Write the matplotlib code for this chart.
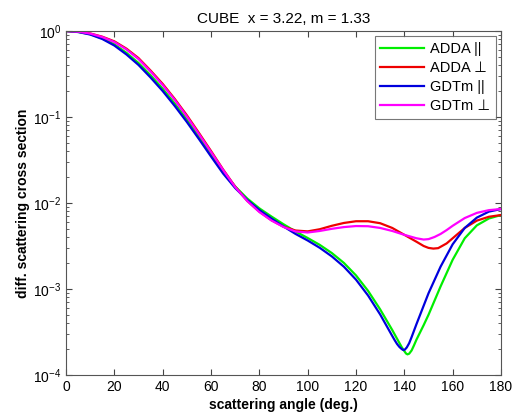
import matplotlib
matplotlib.use('Agg')
import matplotlib.pyplot as plt
import numpy as np

plt.rcParams['font.family'] = ['Liberation Sans', 'DejaVu Sans']
plt.rcParams['mathtext.default'] = 'regular'

# log10 of the curves
ang_r = [0, 5, 10, 15, 20, 25, 30, 35, 40, 45, 50, 55, 60, 65, 70, 75, 80, 85, 90, 95,
         100, 105, 110, 115, 120, 125, 130, 135, 140, 145, 148, 150, 152, 154, 157.5, 160,
         165, 170, 175, 180]
adda_perp = [0, -0.007, -0.028, -0.066, -0.12, -0.205, -0.315, -0.46, -0.615, -0.79, -0.98,
             -1.185, -1.395, -1.61, -1.81, -1.975, -2.10, -2.20, -2.275, -2.32, -2.33, -2.305,
             -2.265, -2.232, -2.212, -2.212, -2.235, -2.29, -2.37, -2.45, -2.50, -2.522, -2.53,
             -2.525, -2.47, -2.41, -2.29, -2.205, -2.16, -2.14]

ang_m = [0, 5, 10, 15, 20, 25, 30, 35, 40, 45, 50, 55, 60, 65, 70, 75, 80, 85, 90, 95,
         100, 105, 110, 115, 120, 125, 130, 135, 140, 145, 148, 150, 152.5, 155, 157.5, 160,
         165, 170, 175, 180]
gdtm_perp = [0, -0.008, -0.030, -0.070, -0.128, -0.215, -0.326, -0.471, -0.628, -0.802,
             -0.994, -1.198, -1.407, -1.616, -1.814, -1.977, -2.105, -2.203, -2.279, -2.331,
             -2.343, -2.325, -2.30, -2.28, -2.268, -2.27, -2.29, -2.325, -2.37, -2.41, -2.425,
             -2.42, -2.395, -2.36, -2.315, -2.265, -2.175, -2.115, -2.083, -2.07]

ang_g = [0, 5, 10, 15, 20, 25, 30, 35, 40, 45, 50, 55, 60, 65, 70, 75, 80, 85, 90, 95,
         100, 105, 110, 115, 120, 125, 130, 135, 138, 139, 140, 140.7, 141.3, 142, 143, 144,
         145, 148, 150, 155, 160, 165, 170, 175, 180]
adda_par = [0, -0.010, -0.037, -0.085, -0.155, -0.254, -0.372, -0.515, -0.671, -0.844,
            -1.030, -1.231, -1.437, -1.634, -1.808, -1.948, -2.062, -2.157, -2.247, -2.331,
            -2.407, -2.487, -2.582, -2.697, -2.842, -3.022, -3.237, -3.477, -3.63, -3.68,
            -3.722, -3.75, -3.76, -3.752, -3.715, -3.655, -3.59, -3.42, -3.30, -2.97, -2.66,
            -2.41, -2.26, -2.18, -2.14]

ang_b = [0, 5, 10, 15, 20, 25, 30, 35, 40, 45, 50, 55, 60, 65, 70, 75, 80, 85, 90, 95,
         100, 105, 110, 115, 120, 125, 130, 135, 136, 137, 138, 139, 139.6, 140.2, 141, 142,
         143, 145, 150, 155, 160, 165, 170, 175, 180]
gdtm_par = [0, -0.012, -0.041, -0.093, -0.169, -0.273, -0.395, -0.541, -0.698, -0.872,
            -1.058, -1.256, -1.459, -1.657, -1.826, -1.965, -2.081, -2.180, -2.273, -2.360,
            -2.436, -2.521, -2.621, -2.741, -2.891, -3.076, -3.296, -3.546, -3.595, -3.64,
            -3.675, -3.70, -3.71, -3.705, -3.68, -3.63, -3.56, -3.41, -3.05, -2.74, -2.48,
            -2.29, -2.17, -2.10, -2.07]

fig = plt.figure(figsize=(5.13, 4.19), dpi=100)
ax = fig.add_axes([0.1287, 0.105, 0.8479, 0.821])

ax.semilogy(ang_g, 10 ** np.array(adda_par), color='#00ee00', lw=1.6, label='ADDA ||')
ax.semilogy(ang_r, 10 ** np.array(adda_perp), color='#ee0000', lw=1.6, label='ADDA \u22a5')
ax.semilogy(ang_b, 10 ** np.array(gdtm_par), color='#0000dd', lw=1.6, label='GDTm ||')
ax.semilogy(ang_m, 10 ** np.array(gdtm_perp), color='#ff00ff', lw=1.6, label='GDTm \u22a5')

ax.set_xlim(0, 180)
ax.set_ylim(1e-4, 1)
ax.set_xticks(np.arange(0, 181, 20))
ax.tick_params(which='both', direction='in', top=True, right=True, labelsize=10,
               color='#444444')
ax.tick_params(which='major', length=4)
ax.tick_params(which='minor', length=2)
for s in ax.spines.values():
    s.set_color('#555555')

ax.set_title('CUBE  x = 3.22, m = 1.33', fontsize=11)
ax.set_xlabel('scattering angle (deg.)', fontsize=10, fontweight='bold', labelpad=3)
ax.set_ylabel('diff. scattering cross section', fontsize=10, fontweight='bold', labelpad=2)

leg = ax.legend(loc='upper right', fontsize=10.5, fancybox=False, handlelength=3.0,
                borderaxespad=0.35, labelspacing=0.35, handletextpad=0.4)
leg.get_frame().set_edgecolor('#555555')
leg.get_frame().set_linewidth(0.8)

fig.savefig('out.png', dpi=100)
